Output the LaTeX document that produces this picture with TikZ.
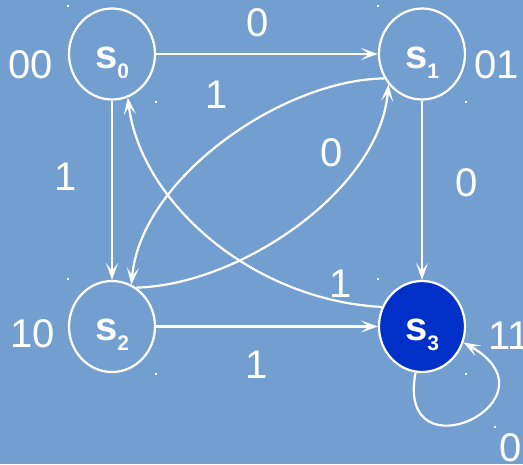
\documentclass[tikz,border=0pt]{standalone}
\usepackage{fontspec}
\setmainfont{Liberation Sans}
\usetikzlibrary{arrows.meta,shapes.geometric}
\definecolor{bgblue}{RGB}{114,159,207}
\definecolor{stfill}{RGB}{0,48,200}
\newcommand{\stsub}[1]{\raisebox{-10pt}{\fontsize{21}{21}\selectfont\bfseries #1}}
\begin{document}
\begin{tikzpicture}[x=1pt,y=-1pt,
  state/.style={ellipse,draw=white,line width=2.2pt,minimum width=86pt,minimum height=91pt,
    inner sep=0pt,text=white,text height=28pt,text depth=0pt,font=\fontsize{40}{40}\selectfont\bfseries},
  lbl/.style={text=white,inner sep=0pt,font=\fontsize{40}{40}\selectfont},
  arr/.style={draw=white,line width=2.2pt,-{Stealth[length=17pt,width=12pt,inset=8pt]}},
  dot/.style={fill=white,inner sep=0pt,minimum size=2pt}]
\fill[bgblue] (0,0) rectangle (523,464);
\useasboundingbox (0,0) rectangle (523,464);
\node[state] (s0) at (112,54) {s\stsub{0}};
\node[state] (s1) at (422,54) {s\stsub{1}};
\node[state] (s2) at (112,326.5) {s\stsub{2}};
\node[state,fill=stfill] (s3) at (422,326.5) {s\stsub{3}};
% bounding-box corner dots
\foreach \n in {s0,s1,s2,s3}{
  \node[dot] at ([yshift=1pt]\n.west |- \n.north) {};
  \node[dot] at ([yshift=-1pt]\n.east |- \n.south) {};
}
\coordinate (loopdot) at (495,427);
\node[dot] at (loopdot) {};
% edges
\draw[arr] (s0) -- (s1);
\draw[arr] (s1) -- (s3);
\draw[arr] (s0) -- (s2);
\draw[arr] (s2) -- (s3);
\draw[arr] (s1.213) .. controls (280,80) and (140,180) .. (s2.65);
\draw[arr] (s2.58) .. controls (240,285) and (380,190) .. (s1.222);
\draw[arr] (s3.154) .. controls (250,300) and (140,200) .. (s0.290);
\draw[arr] (s3.262) .. controls (395,480) and (565,400) .. (s3.339);
% edge labels
\node[lbl] (l01) at (258,22.5) {0};
\node[lbl] (l12) at (217,95) {1};
\node[lbl] (l21) at (332,153) {0};
\node[lbl] (l02) at (66,176.5) {1};
\node[lbl] (l13) at (467,182.5) {0};
\node[lbl] (l30) at (341,284) {1};
\node[lbl] (l23) at (257,364.5) {1};
\node[lbl] (l33) at (511,448) {0};
% state codes
\node[lbl] (c0) at (31,64.5) {00};
\node[lbl] (c1) at (497,64.5) {01};
\node[lbl] (c2) at (33,334) {10};
\node[lbl] (c3) at (509,336) {11};
\end{tikzpicture}
\end{document}
